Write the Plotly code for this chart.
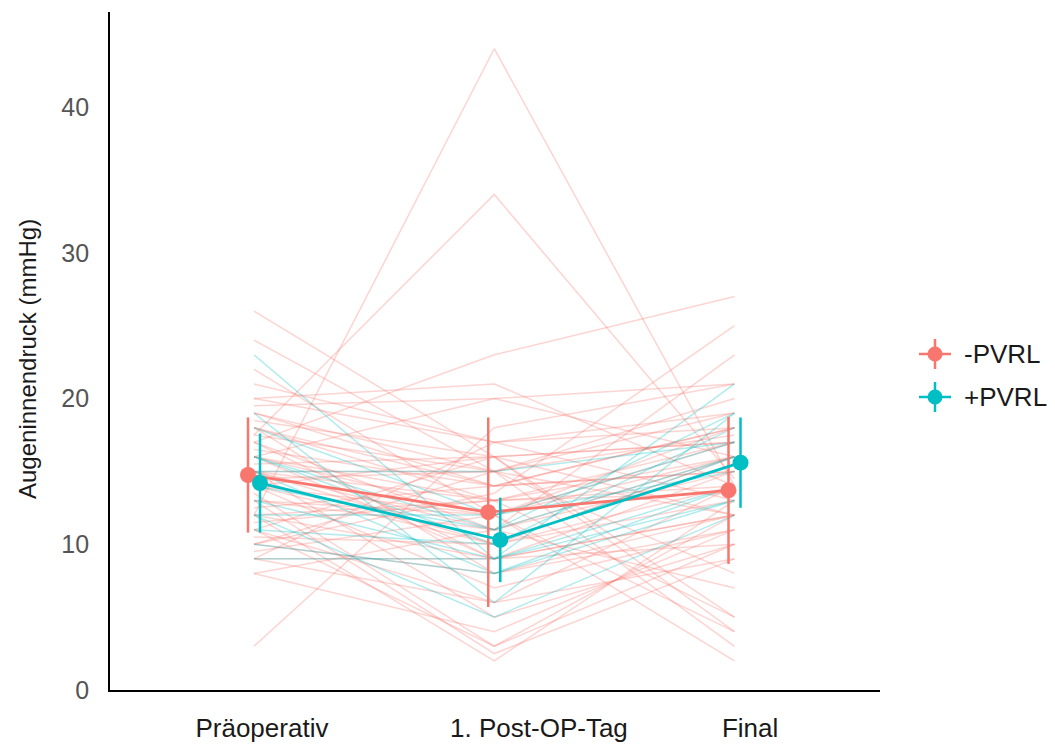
import plotly.graph_objects as go
import numpy as np

# ---------------- data ----------------
categories = ["Präoperativ", "1. Post-OP-Tag", "Final"]
groups = ["-PVRL", "+PVRL"]

# individual patients (pre, post-op day 1, final) in mmHg
neg_pre   = [12, 17.5, 17, 3, 26, 24, 22, 10, 15, 21, 20, 19.5, 19, 18.5, 18, 18, 17.5, 17, 16.5, 16,
             16, 15.5, 15, 15, 15, 14.5, 14, 14, 13.5, 13, 13, 12.5, 12, 12, 11.5, 11, 11, 10.5, 10, 10,
             9.5, 9, 9, 8, 8, 16, 19, 14, 12, 17, 15, 9, 20, 18, 13, 11, 14, 16]
neg_post  = [44, 34, 23, 18, 16, 15, 12, 13.5, 11, 17, 21, 20, 14, 16, 13, 8, 15, 11, 14, 12,
             9, 16, 13, 10, 5, 15, 12, 7, 3, 11, 2.5, 14, 9, 2, 13, 6, 16, 10, 8, 15,
             12, 6, 17, 4, 11, 20, 15, 16, 13, 9, 15, 9, 17, 14, 12, 3, 10, 13]
neg_final = [14, 14.5, 27, 21, 12, 8, 4, 25, 23, 13, 14, 21, 18, 17, 16, 11, 19, 16, 15, 18,
             12, 17, 14, 13, 10, 12, 17, 11, 12, 15, 9, 18, 10, 13, 5, 14, 4, 16, 12, 3,
             2, 9, 19, 11, 7, 16, 20, 5, 13.5, 15, 17.5, 12, 18, 15, 16, 10, 14, 17]

pos_pre   = [23, 19, 18, 16, 15, 15, 14, 13, 12, 12, 11, 10, 9, 16]
pos_post  = [9, 6, 12, 10, 15, 8, 11, 9, 12, 5, 10, 8, 9, 11]
pos_final = [21, 19, 17, 18, 17, 14, 16, 13, 15, 12, 16, 13, 14, 19]

# group means and standard deviations
neg_mean = [14.75, 12.2, 13.7]
neg_sd   = [3.95, 6.5, 5.05]
pos_mean = [14.2, 10.3, 15.6]
pos_sd   = [3.4, 2.9, 3.1]

y_ticks = [0, 10, 20, 30, 40]

# ---------------- styling ----------------
RED = "#F8766D"
CYAN = "#00BFC4"
FONT = "Liberation Sans, Arial, sans-serif"

x_pos = np.arange(len(categories), dtype=float)
dodge = 0.025
label_pos = [0.033, 1.186, 2.065]

fig = go.Figure()

def add_individuals(pre, post, final, color):
    for a, b, c in zip(pre, post, final):
        fig.add_trace(go.Scatter(
            x=x_pos, y=[a, b, c], mode="lines",
            line=dict(color=color, width=1.5), opacity=0.3,
            hoverinfo="skip", showlegend=False))

add_individuals(neg_pre, neg_post, neg_final, RED)
add_individuals(pos_pre, pos_post, pos_final, CYAN)

for mean, sd, color, off, name in [(neg_mean, neg_sd, RED, -dodge, groups[0]),
                                   (pos_mean, pos_sd, CYAN, dodge, groups[1])]:
    fig.add_trace(go.Scatter(
        x=x_pos + off, y=mean, mode="lines+markers", name=name,
        line=dict(color=color, width=2.8),
        marker=dict(color=color, size=16),
        error_y=dict(type="data", array=sd, visible=True, color=color,
                     thickness=2.5, width=0),
        showlegend=False))

# manual legend (pointrange style)
legend_items = [(groups[0], RED, (690 - 354) / 678), (groups[1], CYAN, (690 - 397) / 678)]
lx = (935 - 110) / 770
for name, color, ly in legend_items:
    fig.add_shape(type="line", xref="paper", yref="paper", xsizemode="pixel", ysizemode="pixel",
                  xanchor=lx, yanchor=ly, x0=-16, x1=16, y0=0, y1=0,
                  line=dict(color=color, width=2.5))
    fig.add_shape(type="line", xref="paper", yref="paper", xsizemode="pixel", ysizemode="pixel",
                  xanchor=lx, yanchor=ly, x0=0, x1=0, y0=-15, y1=15,
                  line=dict(color=color, width=2.5))
    fig.add_shape(type="circle", xref="paper", yref="paper", xsizemode="pixel", ysizemode="pixel",
                  xanchor=lx, yanchor=ly, x0=-7.5, x1=7.5, y0=-7.5, y1=7.5,
                  fillcolor=color, line=dict(color=color, width=0))
    fig.add_annotation(x=(962 - 110) / 770, y=ly, xref="paper", yref="paper",
                       text=name, showarrow=False, xanchor="left", yanchor="middle",
                       font=dict(family=FONT, size=26, color="#1a1a1a"))

# y-axis title
fig.add_annotation(x=(28 - 110) / 770, y=(690 - 359) / 678, xref="paper", yref="paper",
                   text="Augeninnendruck (mmHg)", textangle=-90, showarrow=False,
                   xanchor="center", yanchor="middle",
                   font=dict(family=FONT, size=24, color="#1a1a1a"))

fig.update_layout(
    width=1055, height=746,
    margin=dict(l=110, r=175, t=12, b=56),
    paper_bgcolor="white", plot_bgcolor="white",
    showlegend=False,
    font=dict(family=FONT),
)
fig.update_xaxes(
    range=[-0.5994, 2.6056], tickvals=label_pos, ticktext=categories,
    showgrid=False, zeroline=False, showline=True, linecolor="black", linewidth=2,
    ticks="", ticklabelstandoff=14, automargin=False,
    tickfont=dict(family=FONT, size=26, color="#1a1a1a"))
fig.update_yaxes(
    range=[0, 46.52], tickvals=y_ticks,
    showgrid=False, zeroline=False, showline=True, linecolor="black", linewidth=1.8,
    ticks="", ticklabelstandoff=14, automargin=False,
    tickfont=dict(family=FONT, size=25, color="#555555"))

fig.write_html("out.html")
